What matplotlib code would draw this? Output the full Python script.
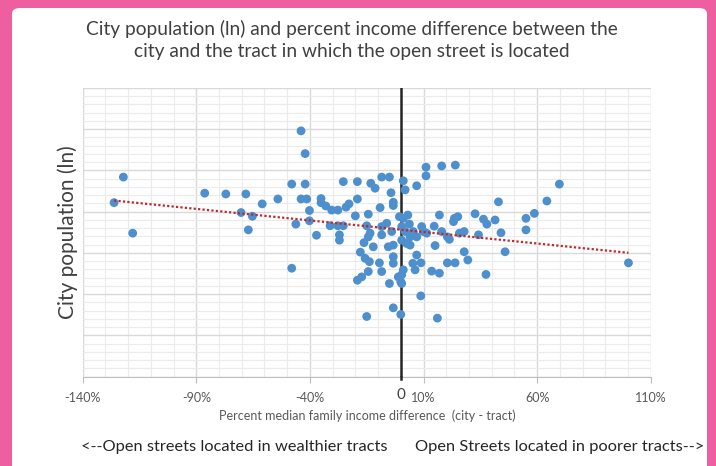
import numpy as np
import matplotlib.pyplot as plt
from matplotlib.patches import FancyBboxPatch
from matplotlib.ticker import MultipleLocator, FixedLocator

# percent median family income difference (city - tract)
income_diff = [
    -126.2, -122.1, -118.0, -86.3, -77.0, -68.2, -70.3, -65.3, -67.1, -61.0,
    -54.1, -48.0, -48.0, -46.2, -43.9, -42.1, -42.1, -43.9, -41.4, -40.2,
    -40.2, -37.1, -35.1, -35.1, -33.0, -30.4, -27.7, -31.1, -27.7, -25.3,
    -27.0, -27.0, -25.3, -24.1, -22.8, -19.1, -19.1, -15.0, -19.1, -17.2,
    -16.2, -15.0, -14.3, -13.2, -11.3, -15.7, -13.8, -14.3, -14.3, -13.5,
    -12.1, -9.1, -8.4, -5.0, -4.3, -3.3, -3.3, -8.4, -8.4, -6.2,
    -4.0, -5.5, -3.3, -3.3, -3.3, -9.4, -8.4, -5.0, -3.3, 0.0,
    1.1, 1.9, 7.0, 11.1, 11.1, 18.0, 24.0, -0.6, 1.1, 3.1,
    3.8, 0.4, 1.9, 5.5, 7.0, 9.2, 9.9, 11.4, 14.7, 17.0,
    18.0, 20.5, 21.4, 23.2, 23.6, 25.1, 25.8, 27.9, 32.7, 36.4,
    37.9, 41.5, 43.0, 44.1, 34.2, 45.9, 27.9, 29.5, 20.5, 23.9,
    37.5, 13.6, 17.0, 15.1, 7.0, 8.9, 5.3, 4.1, 2.6, 0.4,
    1.1, 0.4, -1.1, 0.0, 8.8, 16.1, 55.1, 58.8, 55.1, 64.3,
    69.8, 100.2, 4.1, 6.3, 0.4, -17.8, -20.0,
]
# city population (ln)
city_pop_ln = [
    12.22, 12.84, 11.48, 12.45, 12.43, 12.43, 11.98, 11.89, 11.56, 12.19,
    12.31, 12.67, 10.63, 11.70, 13.96, 13.41, 12.67, 12.31, 12.31, 12.03,
    11.78, 11.43, 12.32, 12.22, 12.14, 12.04, 12.04, 11.66, 11.66, 11.66,
    11.44, 11.31, 12.73, 12.11, 12.19, 12.73, 12.31, 9.46, 10.34, 10.42,
    11.25, 11.66, 11.94, 12.69, 12.57, 10.87, 10.79, 10.55, 11.39, 11.48,
    11.15, 12.10, 12.84, 12.84, 12.46, 12.23, 12.15, 11.64, 11.44, 11.72,
    11.52, 11.15, 11.19, 10.91, 10.75, 10.76, 10.55, 10.26, 9.67, 9.51,
    12.75, 12.53, 12.63, 13.08, 12.87, 13.11, 13.13, 11.88, 11.84, 11.92,
    11.70, 11.64, 11.52, 11.52, 11.39, 11.64, 11.52, 11.48, 11.65, 11.92,
    11.52, 11.39, 11.33, 11.76, 11.84, 11.88, 11.48, 11.52, 11.95, 11.82,
    11.70, 11.80, 12.24, 11.49, 11.44, 11.03, 11.03, 10.83, 10.76, 10.76,
    10.48, 10.56, 10.51, 11.18, 10.95, 10.76, 10.75, 11.19, 11.23, 11.31,
    10.59, 10.47, 10.42, 10.30, 9.96, 9.42, 11.84, 11.96, 11.56, 12.26,
    12.67, 10.76, 11.39, 10.59, 10.26, 11.02, 11.90,
]

x_ticks = [-140, -90, -40, 10, 60, 110]
x_ticklabels = ["-140%", "-90%", "-40%", "10%", "60%", "110%"]

pink = "#EE5FA0"
dot_blue = "#4E8FCE"

fig = plt.figure(figsize=(7.16, 4.66), dpi=100, facecolor=pink)
card = FancyBboxPatch((12 / 716, -0.05), (707 - 12) / 716, (466 - 8) / 466 + 0.05,
                      boxstyle="round,pad=0,rounding_size=0.012",
                      transform=fig.transFigure, facecolor="white",
                      edgecolor="none", zorder=-10)
fig.patches.append(card)

ax = fig.add_axes([82.7 / 716, 1 - 376.7 / 466, (650.7 - 82.7) / 716, (376.7 - 88) / 466])
ax.set_zorder(5)
ax.set_facecolor("white")
ax.set_xlim(-140, 110)
ax.set_ylim(8, 15)

ax.xaxis.set_major_locator(FixedLocator(x_ticks))
ax.xaxis.set_minor_locator(MultipleLocator(10))
ax.yaxis.set_major_locator(MultipleLocator(1))
ax.yaxis.set_minor_locator(MultipleLocator(0.2))
ax.set_xticklabels(x_ticklabels)
ax.set_yticklabels([])
ax.grid(which="major", color="#D9D9D9", linewidth=1.0)
ax.grid(which="minor", color="#EBEBEB", linewidth=0.8)
ax.set_axisbelow(True)

for s in ["top", "right", "left"]:
    ax.spines[s].set_visible(False)
ax.spines["bottom"].set_color("#BFBFBF")
ax.tick_params(axis="y", which="both", length=0)
ax.tick_params(axis="x", which="major", length=4, color="#BFBFBF", pad=7,
               labelsize=9, labelcolor="#595959")
ax.tick_params(axis="x", which="minor", length=0)
for lab in ax.get_xticklabels():
    lab.set_family("Lato")

# vertical axis crossing at 0
ax.axvline(0, color="#262626", linewidth=1.8, zorder=3)
ax.plot([0, 0], [8, 7.94], color="#262626", linewidth=1.8, clip_on=False, zorder=3)
ax.text(0, -0.04, "0", transform=ax.get_xaxis_transform(), ha="center", va="top",
        fontsize=11, family="Lato", color="#404040")

ax.scatter(income_diff, city_pop_ln, s=40, color=dot_blue, edgecolors="none", zorder=4)

# linear trendline
xs = np.array(income_diff)
ys = np.array(city_pop_ln)
k, b = np.polyfit(xs, ys, 1)
tx = np.array([xs.min(), xs.max()])
ax.plot(tx, k * tx + b, color="#C0282D", linestyle=(0, (1, 1)), linewidth=1.6, zorder=5)

ax.set_ylabel("City population (ln)", fontsize=15, family="Lato", color="#404040", labelpad=0)

fig.text(352 / 716, 1 - 40 / 466,
         "City population (ln) and percent income difference between the\n"
         "city and the tract in which the open street is located",
         ha="center", va="center", fontsize=13.8, family="Lato", color="#404040",
         linespacing=1.3)
fig.text(367 / 716, 1 - 416 / 466, "Percent median family income difference  (city - tract)",
         ha="center", va="center", fontsize=9, family="Lato", color="#595959")
fig.text(81 / 716, 1 - 447 / 466, "<--Open streets located in wealthier tracts",
         ha="left", va="center", fontsize=11.8, family="Lato", color="#262626")
fig.text(415 / 716, 1 - 447 / 466, "Open Streets located in poorer tracts-->",
         ha="left", va="center", fontsize=11.8, family="Lato", color="#262626")

fig.savefig("out.png", dpi=100, facecolor=pink)
